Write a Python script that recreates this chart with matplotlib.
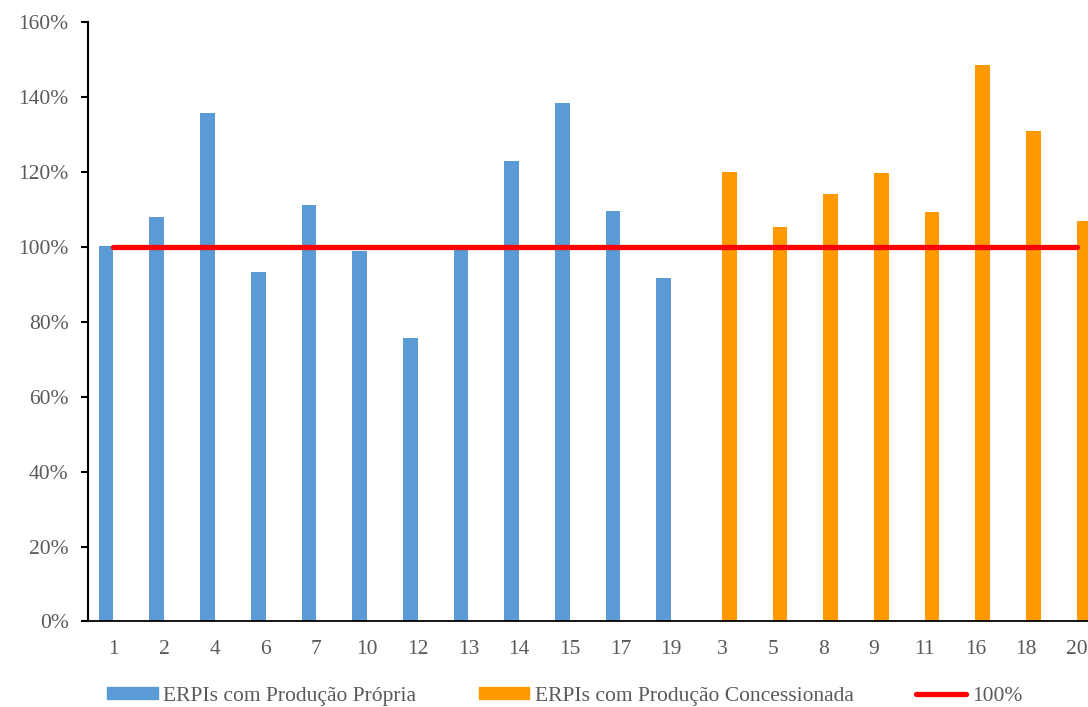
import matplotlib.pyplot as plt
import numpy as np
from matplotlib.lines import Line2D
from matplotlib.patches import Patch

# ERPI numbers along the x axis
categories = ['1', '2', '4', '6', '7', '10', '12', '13', '14', '15', '17', '19',
              '3', '5', '8', '9', '11', '16', '18', '20']

# values in percent
own_prod = [100.2, 108.0, 135.6, 93.2, 111.2, 98.9, 75.6, 99.6, 122.9, 138.4, 109.6, 91.6]
conc_prod = [120.0, 105.2, 114.0, 119.7, 109.3, 148.5, 130.9, 106.8]
reference = 100

yticks = [0, 20, 40, 60, 80, 100, 120, 140, 160]

blue = '#5B9BD5'
orange = '#FF9900'
red = '#FF0000'
grey = '#595959'
fs = 15.5

plt.rcParams['font.family'] = ['Liberation Serif', 'DejaVu Serif']

fig = plt.figure(figsize=(10.88, 7.07), dpi=100)
ax = fig.add_axes([0.081, 0.121, 0.932, 0.848])

x = np.arange(len(categories))
width = 0.29
n_own = len(own_prod)

# clustered bars: own production on the left slot, concession on the right
ax.bar(x[:n_own] - width / 2, own_prod, width, color=blue, zorder=2)
ax.bar(x[n_own:] + width / 2, conc_prod, width, color=orange, zorder=2)

ax.plot([x[0], x[-1]], [reference, reference], color=red, lw=3.8,
        solid_capstyle='round', zorder=3)

ax.set_xlim(-0.5, len(categories) - 0.5)
ax.set_ylim(0, 160)
ax.set_yticks(yticks)
ax.set_yticklabels([f'{v}%' for v in yticks])
ax.set_xticks(x)
ax.set_xticklabels(categories)

for s in ['top', 'right']:
    ax.spines[s].set_visible(False)
ax.spines['left'].set_linewidth(1.5)
ax.spines['bottom'].set_linewidth(1.3)

ax.tick_params(axis='y', direction='out', length=5, width=1.5, pad=9,
               labelsize=fs, labelcolor=grey)
ax.tick_params(axis='x', length=0, pad=13, labelsize=fs, labelcolor=grey)

handles = [
    Patch(color=blue, label='ERPIs com Produção Própria'),
    Patch(color=orange, label='ERPIs com Produção Concessionada'),
    Line2D([], [], color=red, lw=3.8, solid_capstyle='round', label='100%'),
]
fig.legend(handles=handles, loc='center', bbox_to_anchor=(0.519, 0.015), ncol=3,
           frameon=False, fontsize=fs, labelcolor=grey, handlelength=2.35,
           handleheight=0.45, handletextpad=0.25, columnspacing=2.9)

fig.savefig('out.png', dpi=100)
